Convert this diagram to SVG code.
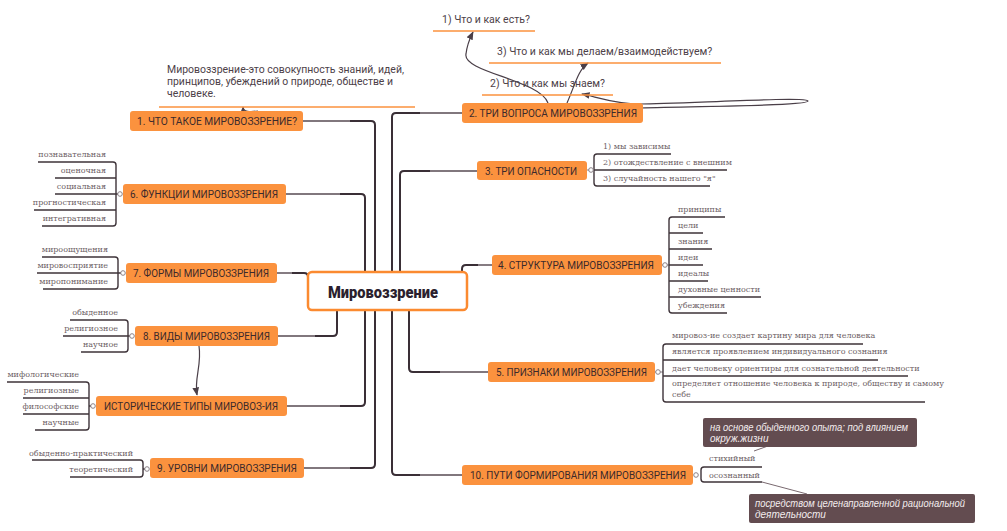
<svg xmlns="http://www.w3.org/2000/svg" width="1007" height="531" viewBox="0 0 1007 531">
<style>
.nd{fill:#fb923e;}
.nt{font-family:Roboto,"Liberation Sans",sans-serif;font-size:10.5px;fill:#3b2a2c;}
.lf{font-family:"DejaVu Serif","Liberation Serif",serif;font-size:8px;fill:#6e5f66;}
.ln{fill:none;stroke:#3e3339;stroke-width:1.4;}
.tr{fill:none;stroke:#3a2f36;stroke-width:2;}
.cc{fill:#fff;stroke:#8a8086;stroke-width:1;}
.q{font-family:Roboto,"Liberation Sans",sans-serif;font-size:10.5px;fill:#4d4148;}
.ou{stroke:#fb923e;stroke-width:1.5;}
.co{fill:#634c50;}
.ct{font-family:"Liberation Sans","DejaVu Sans",sans-serif;font-size:10px;font-style:italic;fill:#f3ecee;}
.ar{fill:none;stroke:#4a3f48;stroke-width:1.2;}
</style>
<defs>
<marker id="ah" viewBox="0 0 10 10" refX="9" refY="5" markerWidth="7" markerHeight="7" orient="auto">
<path d="M0,1 L10,5 L0,9 z" fill="#4a3f48"/>
</marker>
</defs>

<g id="connectors">
<path class="tr" d="M303,121 H371 Q375,121 375,125 V272"/>
<path class="tr" d="M304,468 H371 Q375,468 375,464 V310"/>
<path class="tr" d="M286,194 H361 Q365,194 365,198 V272"/>
<path class="tr" d="M287,406 H361 Q365,406 365,402 V310"/>
<path class="tr" d="M277,273 H304 Q308,273 308,277"/>
<path class="tr" d="M278,336 H333 Q337,336 337,332 V310"/>
<path class="tr" d="M462,113 H396 Q392,113 392,117 V272"/>
<path class="tr" d="M462,475 H396 Q392,475 392,471 V310"/>
<path class="tr" d="M477,171 H404 Q400,171 400,175 V272"/>
<path class="tr" d="M488,372 H413 Q409,372 409,368 V310"/>
<path class="tr" d="M492,265 H466 Q462,265 462,269 V272"/>
<g stroke="#9a9196" stroke-width="1.6">
<line x1="303" y1="121" x2="350" y2="121"/>
<line x1="304" y1="468" x2="350" y2="468"/>
<line x1="286" y1="194" x2="340" y2="194"/>
<line x1="287" y1="406" x2="340" y2="406"/>
<line x1="278" y1="336" x2="315" y2="336"/>
<line x1="277" y1="273" x2="292" y2="273"/>
<line x1="420" y1="113" x2="462" y2="113"/>
<line x1="420" y1="475" x2="462" y2="475"/>
<line x1="430" y1="171" x2="477" y2="171"/>
<line x1="440" y1="372" x2="488" y2="372"/>
<line x1="478" y1="265" x2="492" y2="265"/>
</g>
<path class="ar" marker-end="url(#ah)" d="M199,346 C202,365 194,378 197,395"/>
<path class="ar" marker-end="url(#ah)" d="M258,111 C250,112 243,112 243,107"/>
<path class="ar" marker-end="url(#ah)" d="M548,103 C540,80 462,72 466,54 C467,45 470,38 473,32"/>
<path class="ar" marker-end="url(#ah)" d="M567,103 C575,85 578,70 588,63"/>
<path class="ar" marker-end="url(#ah)" d="M640,108 C700,106 808,106 808,101 C808,96 680,104 640,104 C615,104 597,97 582,94"/>
<line x1="754" y1="451" x2="768" y2="446" stroke="#7a6a70" stroke-width="1"/>
<line x1="762" y1="482" x2="807" y2="494" stroke="#7a6a70" stroke-width="1"/>
</g>

<g id="center">
<rect x="308" y="272" width="159" height="38" rx="4" fill="#fff" stroke="#fb8a30" stroke-width="2.5"/>
<text x="328" y="298" textLength="110" lengthAdjust="spacingAndGlyphs" font-family="Roboto,'Liberation Sans',sans-serif" font-weight="900" font-size="17" fill="#2b1f2e">Мировоззрение</text>
</g>

<g id="definition">
<text class="q" x="167" y="73" textLength="237" lengthAdjust="spacingAndGlyphs">Мировоззрение-это совокупность знаний, идей,</text>
<text class="q" x="167" y="85" textLength="226" lengthAdjust="spacingAndGlyphs">принципов, убеждений о природе, обществе и</text>
<text class="q" x="167" y="97">человеке.</text>
<line class="ou" x1="159" y1="107" x2="415" y2="107"/>
</g>

<g id="n1">
<rect class="nd" x="130" y="111" width="173" height="20" rx="3"/>
<text class="nt" x="137" y="125" textLength="160" lengthAdjust="spacingAndGlyphs">1. ЧТО ТАКОЕ МИРОВОЗЗРЕНИЕ?</text>
</g>

<g id="n2">
<rect class="nd" x="462" y="103" width="181" height="20" rx="3"/>
<text class="nt" x="469" y="117" textLength="168" lengthAdjust="spacingAndGlyphs">2. ТРИ ВОПРОСА МИРОВОЗЗРЕНИЯ</text>
</g>

<g id="q1">
<text class="q" x="442" y="23">1) Что и как есть?</text>
<line class="ou" x1="433" y1="31" x2="535" y2="31"/>
</g>
<g id="q3">
<text class="q" x="497" y="55">3) Что и как мы делаем/взаимодействуем?</text>
<line class="ou" x1="489" y1="63" x2="721" y2="63"/>
</g>
<g id="q2">
<text class="q" x="490" y="87">2) Что и как мы знаем?</text>
<line class="ou" x1="482" y1="95" x2="613" y2="95"/>
</g>

<g id="n3">
<rect class="nd" x="477" y="161" width="110" height="19" rx="3"/>
<text class="nt" x="485" y="174.5" textLength="92" lengthAdjust="spacingAndGlyphs">3. ТРИ ОПАСНОСТИ</text>
<line x1="587" y1="170" x2="594" y2="170" stroke="#8a8086"/>
<path class="ln" d="M671,154 H597 Q594,154 594,157 V183 Q594,186 597,186 H710 M594,170 H727"/>
<circle class="cc" cx="591" cy="170" r="2.3"/>
<text class="lf" x="603" y="149">1) мы зависимы</text>
<text class="lf" x="603" y="165">2) отождествление с внешним</text>
<text class="lf" x="603" y="181">3) случайность нашего "я"</text>
</g>

<g id="n4">
<rect class="nd" x="492" y="255" width="170" height="20" rx="3"/>
<text class="nt" x="498" y="269" textLength="156" lengthAdjust="spacingAndGlyphs">4. СТРУКТУРА МИРОВОЗЗРЕНИЯ</text>
<line x1="662" y1="265" x2="669" y2="265" stroke="#8a8086"/>
<path class="ln" d="M725,217 H672 Q669,217 669,220 V310 Q669,313 672,313 H727 M669,233 H703 M669,249 H712 M669,265 H703 M669,281 H708 M669,297 H761"/>
<circle class="cc" cx="665" cy="265" r="2.3"/>
<text class="lf" x="678" y="212">принципы</text>
<text class="lf" x="678" y="228">цели</text>
<text class="lf" x="678" y="244">знания</text>
<text class="lf" x="678" y="260">идеи</text>
<text class="lf" x="678" y="276">идеалы</text>
<text class="lf" x="678" y="292">духовные ценности</text>
<text class="lf" x="678" y="308">убеждения</text>
</g>

<g id="n5">
<rect class="nd" x="488" y="362" width="167" height="20" rx="3"/>
<text class="nt" x="496" y="376" textLength="151" lengthAdjust="spacingAndGlyphs">5. ПРИЗНАКИ МИРОВОЗЗРЕНИЯ</text>
<line x1="655" y1="372" x2="663" y2="372" stroke="#8a8086"/>
<path class="ln" d="M863,344 H666 Q663,344 663,347 V399 Q663,402 666,402 H925 M663,360 H878 M663,376 H908"/>
<circle class="cc" cx="658" cy="372" r="2.3"/>
<text class="lf" x="672" y="338">мировоз-ие создает картину мира для человека</text>
<text class="lf" x="672" y="354">является проявлением индивидуального сознания</text>
<text class="lf" x="672" y="371">дает человеку ориентиры для сознательной деятельности</text>
<text class="lf" x="672" y="386">определяет отношение человека к природе, обществу и самому</text>
<text class="lf" x="672" y="397">себе</text>
</g>

<g id="n10">
<rect class="nd" x="462" y="465" width="231" height="20" rx="3"/>
<text class="nt" x="470" y="479" textLength="216" lengthAdjust="spacingAndGlyphs">10. ПУТИ ФОРМИРОВАНИЯ МИРОВОЗЗРЕНИЯ</text>
<path class="ln" d="M762,467 H704 Q701,467 701,470 V479 Q701,482 704,482 H762"/>
<circle class="cc" cx="696" cy="475" r="2.3"/>
<text class="lf" x="709" y="461">стихийный</text>
<text class="lf" x="709" y="478">осознанный</text>
</g>

<g id="callout1">
<rect class="co" x="703" y="418" width="214" height="29" rx="2"/>
<text class="ct" x="710" y="431" textLength="198" lengthAdjust="spacingAndGlyphs">на основе обыденного опыта; под влиянием</text>
<text class="ct" x="710" y="442">окруж.жизни</text>
</g>
<g id="callout2">
<rect class="co" x="749" y="494" width="226" height="29" rx="2"/>
<text class="ct" x="755" y="507" textLength="210" lengthAdjust="spacingAndGlyphs">посредством целенаправленной рациональной</text>
<text class="ct" x="755" y="518">деятельности</text>
</g>

<g id="n6">
<rect class="nd" x="123" y="184" width="163" height="20" rx="3"/>
<text class="nt" x="130" y="198" textLength="148" lengthAdjust="spacingAndGlyphs">6. ФУНКЦИИ МИРОВОЗЗРЕНИЯ</text>
<path class="ln" d="M38,162 H113 Q116,162 116,165 V223 Q116,226 113,226 H42 M55,178 H116 M55,194 H118 M34,210 H116"/>
<circle class="cc" cx="120" cy="194" r="2.3"/>
<g text-anchor="end">
<text class="lf" x="106" y="157">познавательная</text>
<text class="lf" x="106" y="173">оценочная</text>
<text class="lf" x="106" y="189">социальная</text>
<text class="lf" x="106" y="205">прогностическая</text>
<text class="lf" x="106" y="221">интегративная</text>
</g>
</g>

<g id="n7">
<rect class="nd" x="126" y="263" width="151" height="20" rx="3"/>
<text class="nt" x="133" y="277" textLength="136" lengthAdjust="spacingAndGlyphs">7. ФОРМЫ МИРОВОЗЗРЕНИЯ</text>
<path class="ln" d="M42,257 H115 Q118,257 118,260 V286 Q118,289 115,289 H43 M37,273 H121"/>
<circle class="cc" cx="123" cy="273" r="2.3"/>
<g text-anchor="end">
<text class="lf" x="108" y="252">мироощущения</text>
<text class="lf" x="108" y="268">мировосприятие</text>
<text class="lf" x="108" y="284">миропонимание</text>
</g>
</g>

<g id="n8">
<rect class="nd" x="135" y="326" width="143" height="20" rx="3"/>
<text class="nt" x="143" y="340" textLength="127" lengthAdjust="spacingAndGlyphs">8. ВИДЫ МИРОВОЗЗРЕНИЯ</text>
<path class="ln" d="M70,320 H125 Q128,320 128,323 V349 Q128,352 125,352 H81 M63,336 H130"/>
<circle class="cc" cx="132" cy="336" r="2.3"/>
<g text-anchor="end">
<text class="lf" x="118" y="315">обыденное</text>
<text class="lf" x="118" y="331">религиозное</text>
<text class="lf" x="118" y="347">научное</text>
</g>
</g>

<g id="hist">
<rect class="nd" x="96" y="396" width="191" height="20" rx="3"/>
<text class="nt" x="104" y="410" textLength="174" lengthAdjust="spacingAndGlyphs">ИСТОРИЧЕСКИЕ ТИПЫ МИРОВОЗ-ИЯ</text>
<path class="ln" d="M7,382 H86 Q89,382 89,385 V427 Q89,430 86,430 H35 M23,398 H89 M23,414 H89 M89,406 H91"/>
<circle class="cc" cx="93" cy="406" r="2.3"/>
<g text-anchor="end">
<text class="lf" x="79" y="377">мифологические</text>
<text class="lf" x="79" y="393">религиозные</text>
<text class="lf" x="79" y="409">философские</text>
<text class="lf" x="79" y="425">научные</text>
</g>
</g>

<g id="n9">
<rect class="nd" x="150" y="458" width="154" height="20" rx="3"/>
<text class="nt" x="157" y="472" textLength="140" lengthAdjust="spacingAndGlyphs">9. УРОВНИ МИРОВОЗЗРЕНИЯ</text>
<path class="ln" d="M32,460 H140 Q143,460 143,463 V474 Q143,477 140,477 H70 M143,469 H145"/>
<circle class="cc" cx="147" cy="469" r="2.3"/>
<g text-anchor="end">
<text class="lf" x="133" y="456">обыденно-практический</text>
<text class="lf" x="133" y="472">теоретический</text>
</g>
</g>
</svg>
